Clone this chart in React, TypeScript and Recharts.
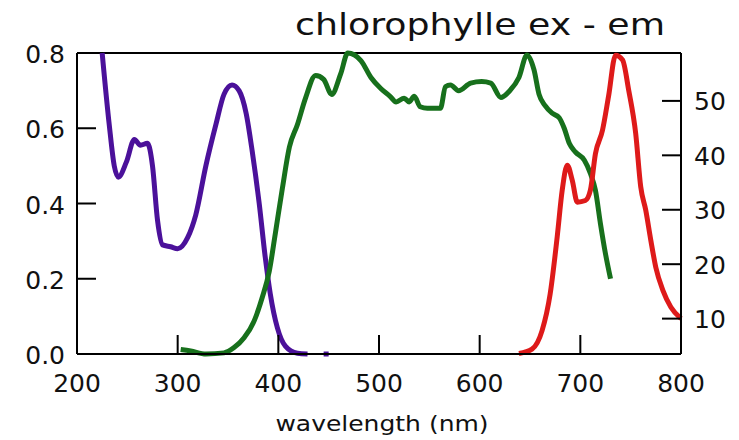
import { ComposedChart, Line, XAxis, YAxis, ReferenceLine } from 'recharts'

// ─── Spectra ─────────────────────────────────────────────────────────────────
const purpleNm = [225, 232, 237, 241, 249, 257, 263, 270, 275, 280, 285, 293, 300, 310, 318, 328, 338, 346, 354, 361, 368, 374, 381, 387, 392, 399, 407, 419, 429, 438, 445, 450]
const purpleVal = [0.8, 0.61, 0.5, 0.47, 0.51, 0.57, 0.555, 0.56, 0.5, 0.355, 0.29, 0.285, 0.28, 0.31, 0.37, 0.5, 0.61, 0.69, 0.715, 0.7, 0.64, 0.54, 0.4, 0.257, 0.16, 0.07, 0.021, 0.002, 0, null, 0, 0]

const greenNm = [303, 313, 328, 346, 356, 366, 376, 384, 391, 397, 404, 411, 419, 427, 437, 445, 453, 462, 469, 482, 492, 502, 511, 517, 525, 530, 535, 541, 548, 561, 566, 571, 579, 591, 602, 611, 621, 630, 639, 647, 654, 659, 665, 672, 679, 684, 689, 695, 704, 710, 715, 720, 725, 730]
const greenVal = [0.012, 0.008, 0.0, 0.003, 0.017, 0.043, 0.088, 0.15, 0.22, 0.32, 0.44, 0.55, 0.61, 0.68, 0.74, 0.73, 0.69, 0.745, 0.8, 0.78, 0.735, 0.705, 0.685, 0.67, 0.68, 0.67, 0.685, 0.657, 0.653, 0.653, 0.71, 0.715, 0.7, 0.72, 0.724, 0.72, 0.682, 0.7, 0.735, 0.795, 0.755, 0.69, 0.66, 0.64, 0.628, 0.6, 0.56, 0.537, 0.515, 0.48, 0.435, 0.346, 0.266, 0.2]

// red (emission) is read against the right-hand axis
const redNm = [639, 652, 662, 670, 677, 682, 687, 692, 697, 705, 710, 715, 722, 728, 735, 742, 748, 755, 760, 765, 770, 775, 782, 790, 800]
const redVal = [3.6, 4.4, 7.8, 14.5, 25, 33.6, 38.2, 35.4, 31.4, 31.7, 33.6, 40.3, 44.6, 50.8, 58.4, 57.5, 52, 44, 34.2, 29.9, 24.4, 19.4, 15.2, 12.1, 10]

const xTicks = [200, 300, 400, 500, 600, 700, 800]
const leftTicks = [0, 0.2, 0.4, 0.6, 0.8]
const rightTicks = [10, 20, 30, 40, 50]

const TITLE = 'chlorophylle ex - em'
const X_LABEL = 'wavelength (nm)'

const zip = (nm: number[], v: (number | null)[]) => nm.map((n, i) => ({ nm: n, v: v[i] }))
const purple = zip(purpleNm, purpleVal)
const green = zip(greenNm, greenVal)
const red = zip(redNm, redVal)

const FONT = 'DejaVu Sans'
const INK = '#111111'
const TICK_LEN = 19
const TICK_W = 2
const AXIS_LINE = { stroke: '#000000', strokeWidth: 2 }

// tick marks point into the frame; drawn as thin rects with the label
// (tickSize/tickMargin are 0, so x/y is the point on the axis line)
function XTick({ x, y, payload }: any) {
  return (
    <g>
      <rect x={x - TICK_W / 2} y={y - TICK_LEN} width={TICK_W} height={TICK_LEN} fill="#000" />
      <text x={x} y={y + 37.5} textAnchor="middle" fontSize={25} fontFamily={FONT} fill={INK}>{payload.value}</text>
    </g>
  )
}

function LeftTick({ x, y, payload }: any) {
  return (
    <g>
      <rect x={x} y={y - TICK_W / 2} width={TICK_LEN} height={TICK_W} fill="#000" />
      <text x={x - 12} y={y + 10} textAnchor="end" fontSize={25} fontFamily={FONT} fill={INK}>{Number(payload.value).toFixed(1)}</text>
    </g>
  )
}

function RightTick({ x, y, payload }: any) {
  return (
    <g>
      <rect x={x - TICK_LEN} y={y - TICK_W / 2} width={TICK_LEN} height={TICK_W} fill="#000" />
      <text x={x + 13} y={y + 9.5} textAnchor="start" fontSize={25} fontFamily={FONT} fill={INK}>{payload.value}</text>
    </g>
  )
}

export default function App() {
  return (
    <div style={{ position: 'absolute', left: 0, top: 0, width: 739, height: 440, background: '#fff' }}>
      <ComposedChart width={739} height={440} margin={{ top: 53, right: 0, bottom: 0, left: 0 }}>
        <XAxis
          dataKey="nm"
          type="number"
          domain={[200, 800]}
          ticks={xTicks}
          interval={0}
          height={86}
          tickSize={0}
          tickMargin={0}
          tickLine={false}
          tick={<XTick />}
          axisLine={AXIS_LINE}
        />
        <YAxis
          yAxisId="left"
          type="number"
          domain={[0, 0.8]}
          ticks={leftTicks}
          interval={0}
          width={77}
          tickSize={0}
          tickMargin={0}
          tickLine={false}
          tick={<LeftTick />}
          axisLine={AXIS_LINE}
        />
        <YAxis
          yAxisId="right"
          orientation="right"
          type="number"
          domain={[3.5, 58.8]}
          ticks={rightTicks}
          interval={0}
          width={58}
          tickSize={0}
          tickMargin={0}
          tickLine={false}
          tick={<RightTick />}
          axisLine={AXIS_LINE}
        />
        {/* top edge of the frame */}
        <ReferenceLine yAxisId="left" y={0.8} stroke="#000" strokeWidth={2} />
        <Line yAxisId="left" data={purple} dataKey="v" type="monotone" stroke="#4b119a" strokeWidth={5} dot={false} isAnimationActive={false} />
        <Line yAxisId="left" data={green} dataKey="v" type="monotone" stroke="#17701c" strokeWidth={5} dot={false} isAnimationActive={false} />
        <Line yAxisId="right" data={red} dataKey="v" type="monotone" stroke="#de1a1a" strokeWidth={5} dot={false} isAnimationActive={false} />
      </ComposedChart>
      <svg width={739} height={440} style={{ position: 'absolute', left: 0, top: 0, pointerEvents: 'none' }}>
        <text x={480} y={35} textAnchor="middle" fontSize={30} fontFamily={FONT} fill={INK} transform="translate(480 0) scale(1.21 1) translate(-480 0)">{TITLE}</text>
        <text x={382} y={431} textAnchor="middle" fontSize={21} fontFamily={FONT} fill={INK} transform="translate(382 0) scale(1.19 1) translate(-382 0)">{X_LABEL}</text>
      </svg>
    </div>
  )
}
